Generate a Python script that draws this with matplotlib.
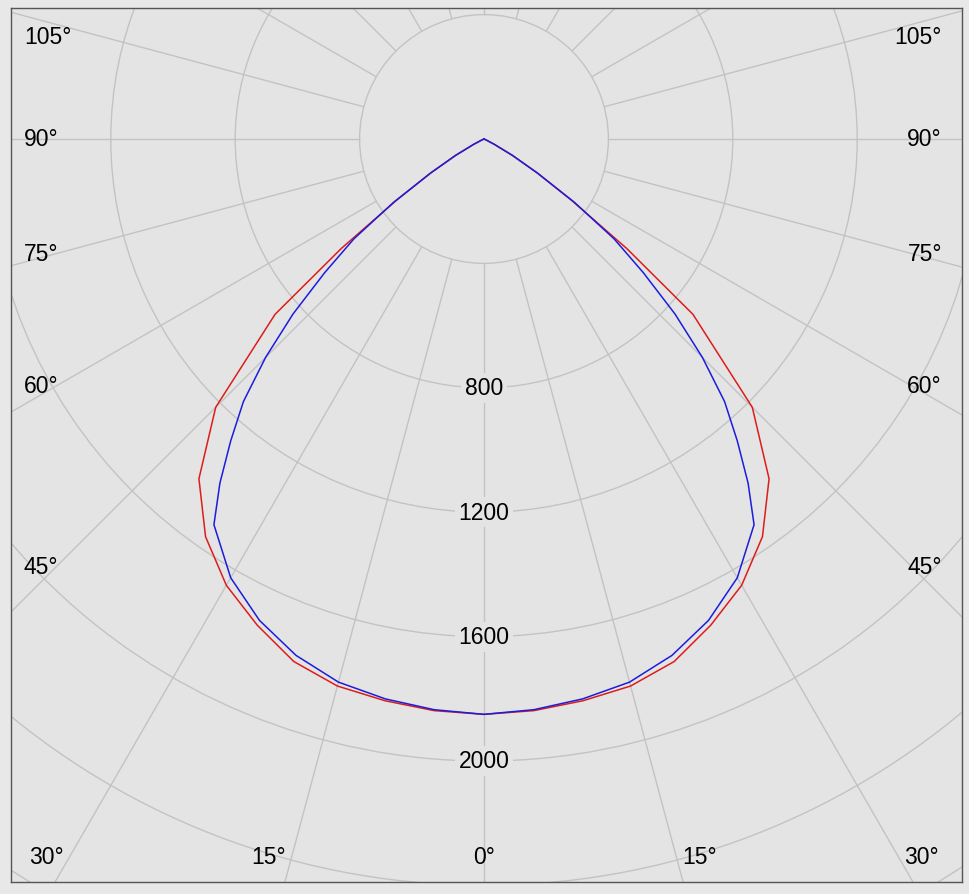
import numpy as np
import matplotlib
matplotlib.use("Agg")
import matplotlib.pyplot as plt
from matplotlib.patches import Circle

# ---- data (luminous intensity, cd) ----
red_angles = [0, 5, 10, 15, 20, 25, 30, 35, 40, 45, 50, 52.5, 55, 57.5, 60, 62.5, 65, 70, 75, 80, 85, 90]
red_values = [1850, 1845, 1834, 1821, 1788, 1725, 1657, 1561, 1426, 1220, 877, 579, 344, 203, 106, 39, 10, 0, 0, 0, 0, 0]

blue_angles = [0, 5, 10, 15, 20, 25, 30, 35, 37.5, 40, 42.5, 45, 47.5, 50, 52.5, 55, 57.5, 60, 62.5, 65, 70, 75, 80, 85, 90]
blue_values = [1850, 1842, 1828, 1808, 1767, 1708, 1629, 1514, 1395, 1267, 1145, 993, 833, 669, 527, 354, 203, 106, 39, 10, 0, 0, 0, 0, 0]

ring_values = [400, 800, 1200, 1600, 2000, 2400, 2800]
ring_labels = ["800", "1200", "1600", "2000"]
side_angles = [105, 90, 75, 60, 45]
bottom_angles = [-30, -15, 0, 15, 30]

# ---- layout ----
W, H = 969, 895
S = 0.311            # px per cd
CX, CY = 484, 140    # pole in pixels
FL, FR, FT, FB = 11, 962, 9, 883   # frame in pixels

def px2x(px):
    return (px - CX) / S

def py2y(py):
    return (CY - py) / S

BG = "#e4e4e4"
GRID = "#c3c3c3"
plt.rcParams["font.family"] = ["Liberation Sans", "DejaVu Sans"]

fig = plt.figure(figsize=(W / 100, H / 100), dpi=100, facecolor="#e8e8e8")
ax = fig.add_axes([FL / W, (H - FB) / H, (FR - FL) / W, (FB - FT) / H])
ax.set_facecolor(BG)
ax.set_xlim(px2x(FL), px2x(FR))
ax.set_ylim(py2y(FB), py2y(FT))
ax.set_aspect("equal", adjustable="box")
ax.set_xticks([])
ax.set_yticks([])
for sp in ax.spines.values():
    sp.set_color("#555555")
    sp.set_linewidth(1.0)

# grid rings
for r in ring_values:
    ax.add_patch(Circle((0, 0), r, fill=False, ec=GRID, lw=1.0, zorder=1))
# radial lines (start at the innermost ring)
r0, r1 = ring_values[0], 3500
for a in range(0, 360, 15):
    t = np.radians(a)
    ax.plot([r0 * np.sin(t), r1 * np.sin(t)], [-r0 * np.cos(t), -r1 * np.cos(t)],
            color=GRID, lw=1.0, zorder=1, solid_capstyle="butt")

# curves (mirrored to both half-planes)
def draw_curve(angles, values, color):
    a = np.radians(np.array(angles, dtype=float))
    v = np.array(values, dtype=float)
    aa = np.concatenate([-a[::-1], a[1:]])
    vv = np.concatenate([v[::-1], v[1:]])
    ax.plot(vv * np.sin(aa), -vv * np.cos(aa), color=color, lw=1.1, zorder=3)

draw_curve(red_angles, red_values, "#dd1c1c")
draw_curve(blue_angles, blue_values, "#1c1cdd")

FS = 16.5
# ring labels on the 0° axis
for lab in ring_labels:
    r = float(lab)
    ax.text(0, -r, lab, ha="center", va="center", fontsize=FS, color="black", zorder=4,
            bbox=dict(boxstyle="square,pad=0.15", fc=BG, ec="none"))

# side angle labels
xr = px2x(57)
ytop = py2y(38)
for a in side_angles:
    t = np.radians(a)
    y = -abs(xr) * np.cos(t) / np.sin(t)
    y = min(y, ytop)
    ax.text(px2x(24), y, f"{a}°", ha="left", va="center", fontsize=FS, zorder=4)
    ax.text(px2x(942), y, f"{a}°", ha="right", va="center", fontsize=FS, zorder=4)

# bottom angle labels
yb = py2y(858)
for a in bottom_angles:
    t = np.radians(a)
    x = abs(yb) * np.tan(t)
    x = x + np.sign(a) * 23 / S
    ax.text(x, yb, f"{abs(a)}°", ha="center", va="center", fontsize=FS, zorder=4)

fig.savefig("out.png", dpi=100, facecolor=fig.get_facecolor())
